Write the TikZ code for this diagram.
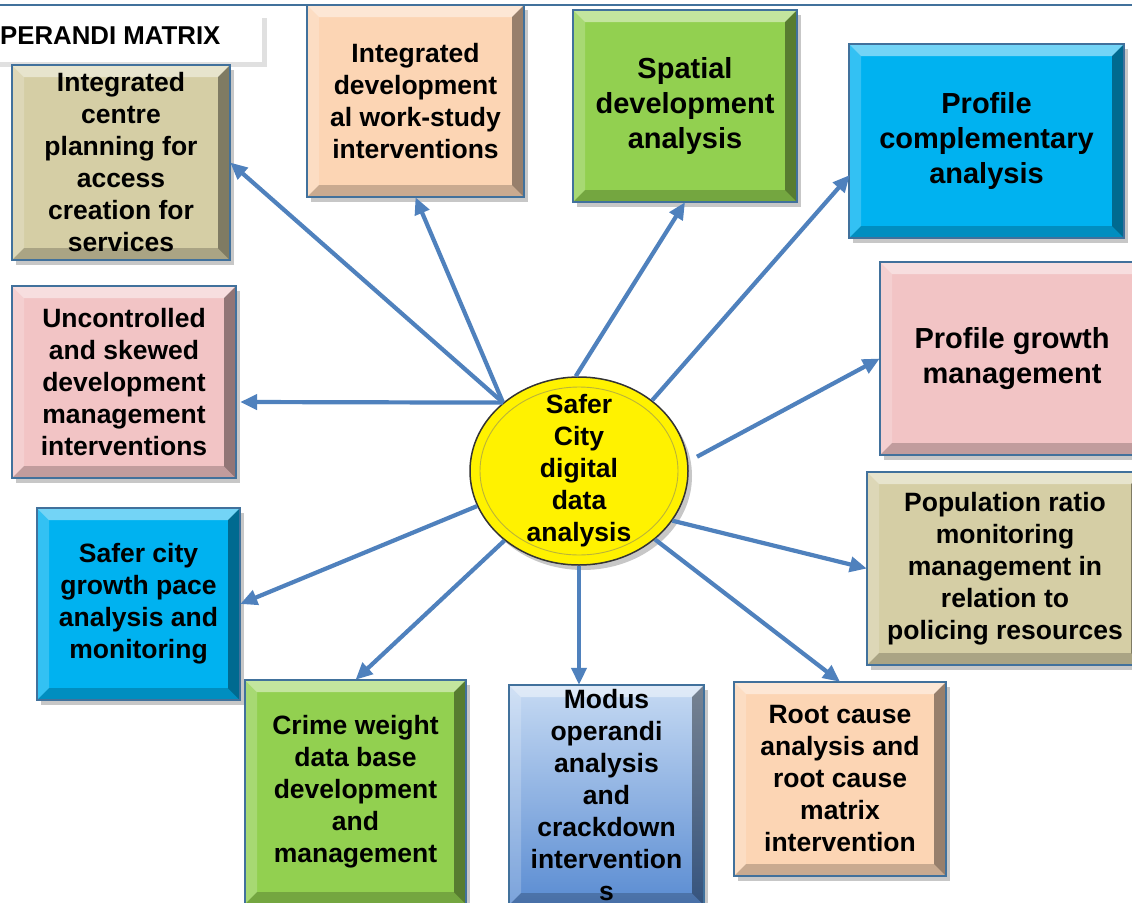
\documentclass[tikz,border=0pt]{standalone}
\usepackage{fontspec}
\setmainfont{Liberation Sans}
\usetikzlibrary{calc,arrows.meta,shapes.geometric}
\definecolor{boxline}{HTML}{41719C}
\definecolor{arrowc}{HTML}{4F81BD}
\definecolor{tanc}{HTML}{D5CEA5}
\definecolor{peachc}{HTML}{FCD5B4}
\definecolor{greenc}{HTML}{92D050}
\definecolor{cyanc}{HTML}{00B2F0}
\definecolor{pinkc}{HTML}{F2C4C5}
\definecolor{modtop}{HTML}{C6DAF3}
\definecolor{modbot}{HTML}{5A8CD2}
\tikzset{
 shadowfill/.style={fill=black,opacity=.22},
 hilite/.style={fill=white,opacity=#1},
 lolite/.style={fill=black,opacity=#1},
 boxedge/.style={draw=boxline,line width=1.6pt},
 boxtext/.style={inner sep=0pt,align=center,text=black},
 normtxt/.style={font=\bfseries\fontsize{26.5}{32}\selectfont},
 bigtxt/.style={font=\bfseries\fontsize{29}{35}\selectfont},
 link/.style={draw=arrowc,line width=4.2pt,-{Triangle[length=17pt,width=15pt]}},
}
\newcommand\bevelbox[8]{%
 \fill[shadowfill] ({#2+4},{#3+5}) rectangle ({#4+4},{#5+5});
 \path[#6] (#2,#3) rectangle (#4,#5);
 \fill[hilite=.45] (#2,#3) -- (#4,#3) -- ({#4-12},{#3+12}) -- ({#2+12},{#3+12}) -- cycle;
 \fill[hilite=.2] (#2,#3) -- ({#2+12},{#3+12}) -- ({#2+12},{#5-12}) -- (#2,#5) -- cycle;
 \fill[lolite=.4] (#4,#3) -- (#4,#5) -- ({#4-12},{#5-12}) -- ({#4-12},{#3+12}) -- cycle;
 \fill[lolite=.2] (#2,#5) -- ({#2+12},{#5-12}) -- ({#4-12},{#5-12}) -- (#4,#5) -- cycle;
 \path[boxedge] (#2,#3) rectangle (#4,#5);
 \node[boxtext,#7,minimum width={#4-#2},minimum height={#5-#3}] (#1) at ({(#2+#4)/2},{(#3+#5)/2}) {#8};
}
\begin{document}
\begin{tikzpicture}[x=1pt,y=-1pt]
\useasboundingbox (0,0) rectangle (1132,902);
\clip (0,0) rectangle (1132,902);
\fill[white] (0,0) rectangle (1132,902);
\draw[boxline,line width=2pt] (0,5) -- (1132,5);
% title
\fill[black,opacity=.12] (-10,18) rectangle (267,67);
\node[fill=white,minimum width=272,minimum height=48,inner sep=0pt] (titlebox) at (126,38) {};
\node[anchor=west,inner sep=0pt,font=\bfseries\fontsize{25.8}{30}\selectfont] (title) at (0,36) {PERANDI MATRIX};
% boxes
\bevelbox{b1}{12}{65}{230}{260}{fill=tanc}{normtxt}{Integrated\\centre\\planning for\\access\\creation for\\services}
\bevelbox{b2}{307}{5}{524}{197}{fill=peachc}{normtxt}{Integrated\\development\\al work-study\\interventions}
\bevelbox{b3}{573}{10}{797}{202}{fill=greenc}{bigtxt}{Spatial\\development\\analysis}
\bevelbox{b4}{849}{44}{1124}{238}{fill=cyanc}{bigtxt}{Profile\\complementary\\analysis}
\bevelbox{b5}{880}{262}{1144}{455}{fill=pinkc}{bigtxt}{Profile growth\\management}
\bevelbox{b6}{12}{286}{236}{478}{fill=pinkc}{normtxt}{Uncontrolled\\and skewed\\development\\management\\interventions}
\bevelbox{b7}{867}{472}{1143}{665}{fill=tanc}{normtxt}{Population ratio\\monitoring\\management in\\relation to\\policing resources}
\bevelbox{b8}{37}{508}{240}{700}{fill=cyanc}{normtxt}{Safer city\\growth pace\\analysis and\\monitoring}
\bevelbox{b9}{245}{680}{466}{904}{fill=greenc}{normtxt}{Crime weight\\data base\\development\\and\\management}
\bevelbox{b10}{509}{685}{704}{905}{top color=modtop,bottom color=modbot}{normtxt}{Modus\\operandi\\analysis\\and\\crackdown\\intervention\\s}
\bevelbox{b11}{734}{682}{946}{876}{fill=peachc}{normtxt}{Root cause\\analysis and\\root cause\\matrix\\intervention}
% centre
\fill[shadowfill] (583,476) ellipse [x radius=109,y radius=94];
\node[ellipse,fill=yellow,draw=black!80,line width=1.5pt,minimum width=218,minimum height=188,inner sep=0pt] (c) at (579,471) {};
\draw[yellow!70!black,line width=0.9pt] (c.center) ellipse [x radius=99,y radius=84];
\node[boxtext,normtxt] (ct) at (c.center) {Safer\\City\\digital\\data\\analysis};
% connectors
\draw[link] (c.138) -- (b1.east);
\draw[link] (c.138) -- (b2.south);
\draw[link] (c.138) -- ($(b6.east)+(4,20)$);
\draw[link] (c.92) -- (b3.south);
\draw[link] (c.44) -- ($(b4.west)+(1,34)$);
\draw[link,shorten <=10pt] (c.5) -- (b5.west);
\draw[link] (c.332) -- (b7.west);
\draw[link] (c.318) -- (b11.north);
\draw[link] (c.south) -- (c.south |- b10.north);
\draw[link] (c.223) -- (b9.north);
\draw[link] (c.199) -- (b8.east);
\end{tikzpicture}
\end{document}
